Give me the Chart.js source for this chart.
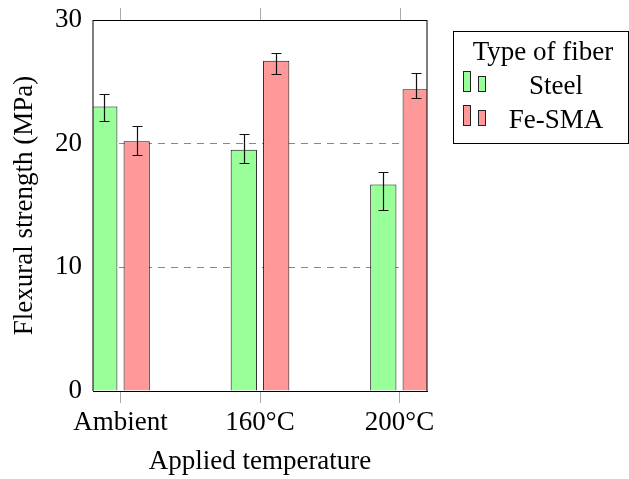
<!DOCTYPE html>
<html>
<head>
<meta charset="utf-8">
<title>Flexural strength</title>
<script src="https://cdn.jsdelivr.net/npm/chart.js@4.4.0/dist/chart.umd.min.js"></script>
<style>
  html, body { margin: 0; padding: 0; background: #fff; }
  canvas { display: block; }
</style>
</head>
<body>
<canvas id="flexionChart" width="629" height="479"></canvas>
<script>
// Datos de resistencia a flexión (MPa)
const temperaturas = ['Ambient', '160°C', '200°C'];
const acero = [23.0, 19.5, 16.7];
const aceroErrMas = [1.0, 1.3, 1.0];
const aceroErrMenos = [1.2, 1.1, 2.1];
const feSma = [20.2, 26.7, 24.4];
const feSmaErrMas = [1.2, 0.65, 1.3];
const feSmaErrMenos = [1.15, 1.1, 0.7];
const ticksY = [0, 10, 20, 30];

const fuente = { family: "'Liberation Serif', serif", size: 27, lineHeight: 1.2 };
const verde = 'rgb(153, 255, 153)';
const rojo = 'rgb(255, 153, 153)';

// Marco, marcas superiores, barras de error y leyenda
const extras = {
    id: 'extras',
    afterDatasetsDraw(chart) {
        const { ctx, chartArea: a, scales: { x, y } } = chart;
        ctx.save();
        // barras de error
        ctx.strokeStyle = '#111';
        ctx.lineWidth = 1.2;
        chart.data.datasets.forEach((ds, d) => {
            chart.getDatasetMeta(d).data.forEach((bar, i) => {
                const v = ds.data[i].y;
                const yArriba = Math.round(y.getPixelForValue(v + ds.errMas[i])) + 0.5;
                const yAbajo = Math.round(y.getPixelForValue(v - ds.errMenos[i])) + 0.5;
                const cx = Math.round(bar.x) + 0.5;
                ctx.beginPath();
                ctx.moveTo(cx, yArriba); ctx.lineTo(cx, yAbajo);
                ctx.moveTo(cx - 5, yArriba); ctx.lineTo(cx + 5, yArriba);
                ctx.moveTo(cx - 5, yAbajo); ctx.lineTo(cx + 5, yAbajo);
                ctx.stroke();
            });
        });
        // marco del área de la gráfica
        ctx.strokeStyle = '#000';
        ctx.lineWidth = 1;
        ctx.beginPath();
        ctx.moveTo(a.left, a.top + 0.5); ctx.lineTo(a.right, a.top + 0.5);
        ctx.moveTo(a.left, a.top); ctx.lineTo(a.left, a.bottom);
        ctx.moveTo(a.right, a.top); ctx.lineTo(a.right, a.bottom);
        ctx.stroke();
        // marcas superiores del eje x
        ctx.strokeStyle = '#aaa';
        ctx.beginPath();
        temperaturas.forEach((t, i) => {
            const px = Math.round(x.getPixelForValue(i)) + 0.5;
            ctx.moveTo(px, a.top - 12); ctx.lineTo(px, a.top);
        });
        ctx.stroke();
        ctx.restore();
    },
    afterDraw(chart) {
        const { ctx } = chart;
        ctx.save();
        // caja de la leyenda
        ctx.strokeStyle = '#000';
        ctx.lineWidth = 1;
        ctx.strokeRect(453.5, 31.5, 175, 112);
        ctx.fillStyle = '#000';
        ctx.font = `${fuente.size}px ${fuente.family}`;
        ctx.textAlign = 'center';
        ctx.textBaseline = 'alphabetic';
        ctx.fillText('Type of fiber', 543, 60);
        const series = [
            { texto: 'Steel', color: verde, base: 94 },
            { texto: 'Fe-SMA', color: rojo, base: 128 }
        ];
        series.forEach(s => {
            const pie = s.base - 2;
            ctx.fillStyle = s.color;
            ctx.strokeStyle = '#222';
            ctx.fillRect(463, pie - 21, 7, 21);
            ctx.strokeRect(463.5, pie - 20.5, 7, 20);
            ctx.fillRect(478, pie - 16, 7, 16);
            ctx.strokeRect(478.5, pie - 15.5, 7, 15);
            ctx.fillStyle = '#000';
            ctx.fillText(s.texto, 556, s.base);
        });
        ctx.restore();
    }
};

const ctx = document.getElementById('flexionChart').getContext('2d');

const flexionChart = new Chart(ctx, {
    type: 'bar',
    data: {
        datasets: [{
            label: 'Steel',
            data: acero.map((v, i) => ({ x: i, y: v })),
            errMas: aceroErrMas,
            errMenos: aceroErrMenos,
            backgroundColor: verde,
            borderColor: '#111',
            borderWidth: 1
        }, {
            label: 'Fe-SMA',
            data: feSma.map((v, i) => ({ x: i, y: v })),
            errMas: feSmaErrMas,
            errMenos: feSmaErrMenos,
            backgroundColor: rojo,
            borderColor: '#111',
            borderWidth: 1
        }]
    },
    options: {
        responsive: false,
        animation: false,
        devicePixelRatio: 1,
        categoryPercentage: 0.4645,
        barPercentage: 0.81,
        layout: { padding: { top: 20, right: 202, left: 0, bottom: 0 } },
        plugins: { legend: { display: false }, tooltip: { enabled: false } },
        scales: {
            x: {
                type: 'linear',
                offset: false,
                min: -0.197,
                max: 2.197,
                afterBuildTicks: s => { s.ticks = temperaturas.map((t, i) => ({ value: i })); },
                afterFit: s => { s.height = 88; s.paddingLeft = 0; s.paddingRight = 0; },
                ticks: {
                    callback: v => temperaturas[v],
                    color: '#000',
                    font: fuente,
                    padding: 4,
                    maxRotation: 0,
                    autoSkip: false
                },
                grid: { offset: false, drawOnChartArea: false, tickLength: 12, color: '#aaa' },
                border: { color: '#000', width: 1 },
                title: {
                    display: true,
                    text: 'Applied temperature',
                    color: '#000',
                    font: fuente,
                    padding: { top: 0, bottom: 1 }
                }
            },
            y: {
                min: 0,
                max: 30,
                afterBuildTicks: s => { s.ticks = ticksY.map(v => ({ value: v })); },
                afterFit: s => { s.width = 93; s.paddingTop = 0; s.paddingBottom = 0; },
                ticks: { color: '#000', font: fuente, padding: 11 },
                grid: {
                    drawTicks: false,
                    color: c => (c.tick.value === 0 || c.tick.value === 30) ? 'rgba(0,0,0,0)' : '#888'
                },
                border: { display: false, dash: [7, 6] },
                title: {
                    display: true,
                    text: 'Flexural strength (MPa)',
                    color: '#000',
                    font: fuente,
                    padding: { top: 9, bottom: 0 }
                }
            }
        }
    },
    plugins: [extras]
});
</script>
</body>
</html>
